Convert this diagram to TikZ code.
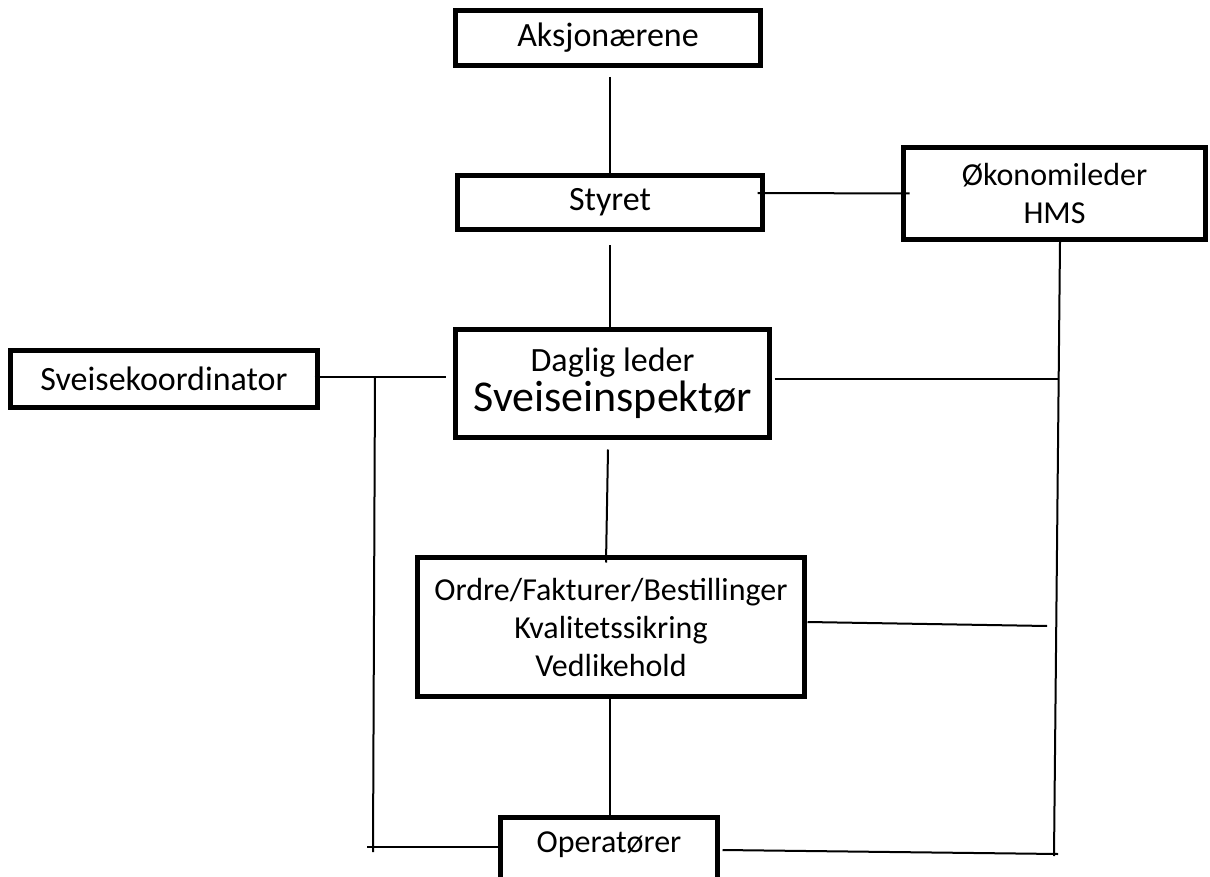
\documentclass[tikz,border=0pt]{standalone}
\usepackage{fontspec}
\setmainfont{Carlito}
\begin{document}
\begin{tikzpicture}[x=0.5pt,y=-0.5pt,
  box/.style={draw, line width=2.5pt, inner sep=0pt},
  conn/.style={line width=1pt},
  fA/.style={font=\fontsize{17}{20}\selectfont},
  fB/.style={font=\fontsize{16}{19}\selectfont}]
\useasboundingbox (0,0) rectangle (1210,877);
% boxes
\node[box, fA, minimum width=152.5pt, minimum height=27.5pt] (aks) at (608,38) {Aksjonærene};
\node[box, fA, minimum width=152.5pt, minimum height=27pt] (sty) at (610,202.5) {Styret};
\node[box, fB, align=center, minimum width=151pt, minimum height=46pt] (oko) at (1054.5,193.5) {Økonomileder\\HMS};
\node[box, fA, minimum width=153.5pt, minimum height=28.5pt] (sve) at (164,379) {Sveisekoordinator};
\node[box, align=center, minimum width=157pt, minimum height=54pt] (dag) at (612.5,383.5)
  {\fontsize{17}{20}\selectfont Daglig leder\\[1pt]\fontsize{22}{24}\selectfont Sveiseinspektør};
\node[box, fB, align=center, minimum width=193.5pt, minimum height=69.5pt] (ord) at (611,627)
  {Ordre/Fakturer/Bestillinger\\Kvalitetssikring\\Vedlikehold};
\node[box, fB, anchor=north, minimum width=108.5pt, text height=17.75pt, text depth=60pt] (ope) at (609,814.5) {Operatører};
% helper coordinates
\coordinate (c1) at ([shift={(0,13.5)}]sty.south);
\coordinate (s1) at ([shift={(-5.5,-2)}]sve.east);
\coordinate (s2) at (s1 -| dag.west);
\coordinate (jl) at (375,377);
\coordinate (jlb) at (373,852);
\coordinate (bl) at (367,847);
\coordinate (blo) at (bl -| ope.west);
\coordinate (rtop) at ([shift={(5.5,0)}]oko.south);
\coordinate (rbot) at (1054,856);
\coordinate (rd) at (1058,379);
\coordinate (ro) at (1047,626);
\coordinate (rbo) at (1058,854);
% connectors
\draw[conn] ([shift={(2,9)}]aks.south) -- ([shift={(2,0)}]aks.south |- sty.north);
\draw[conn] ([shift={(-7.5,-9.5)}]sty.east) -- ([shift={(8.5,0)}]oko.west);
\draw[conn] (c1) -- (c1 |- dag.north);
\draw[conn] ([shift={(-4.5,9.5)}]dag.south) -- ([shift={(-5,7.5)}]ord.north);
\draw[conn] ([shift={(-1,0)}]ord.south) -- ([shift={(-1,0)}]ord.south |- ope.north);
\draw[conn] (s1) -- ([shift={(-7.5,0)}]s2);
\draw[conn] (jl) -- (jlb);
\draw[conn] (bl) -- (blo);
\draw[conn] (rtop) -- (rbot);
\draw[conn] ([shift={(2.5,-4.5)}]dag.east) -- (rd);
\draw[conn] ([shift={(0.5,-5)}]ord.east) -- (ro);
\draw[conn] ([shift={(2.5,35.5)}]ope.north east) -- (rbo);
\end{tikzpicture}
\end{document}
